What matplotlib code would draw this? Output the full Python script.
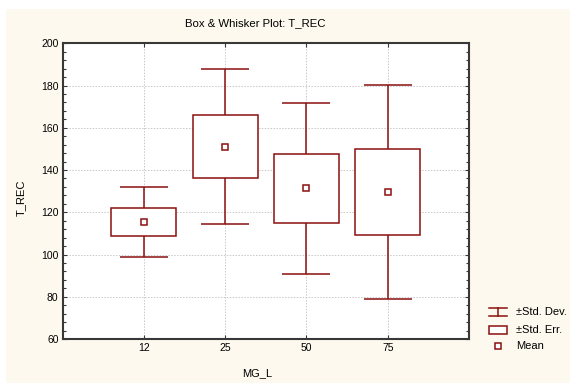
import matplotlib.pyplot as plt
from matplotlib.patches import Rectangle
from matplotlib.ticker import MultipleLocator

plt.rcParams['font.family'] = ['Liberation Sans', 'DejaVu Sans']

## DATA
groups   = ["12", "25", "50", "75"]
means    = [115.5, 151.1, 131.3, 129.7]
std_err  = [6.75, 14.8, 16.5, 20.4]
std_dev  = [16.5, 36.5, 40.5, 50.6]

## STYLE
LINE_COLOR = "#8b1010"
BG_COLOR   = "#fdf9ee"
SPINE_COLOR = "#383838"
GRID_COLOR = "#c8c8c8"
FS = 7.5

W, H = 570, 383
fig = plt.figure(figsize=(W / 100, H / 100), dpi=100)
fig.set_facecolor("white")
# cream panel (white strip on top and left like the original)
fig.add_artist(Rectangle((6 / W, 0), 1, 1 - 9 / H, transform=fig.transFigure,
                         facecolor=BG_COLOR, edgecolor="none", zorder=-10))

ax = fig.add_axes([62.7 / W, 1 - 339 / H, (469 - 62.7) / W, (339 - 43.3) / H])
ax.set_facecolor("white")

xs = list(range(1, len(groups) + 1))

# +/- std dev whiskers
ax.errorbar(xs, means, yerr=std_dev, fmt="none", ecolor=LINE_COLOR,
            elinewidth=1.1, capsize=17.5, capthick=1.1, zorder=3)

# +/- std err boxes
for x, m, se in zip(xs, means, std_err):
    ax.add_patch(Rectangle((x - 0.4, m - se), 0.8, 2 * se, facecolor="white",
                           edgecolor=LINE_COLOR, linewidth=1.1, zorder=4))

# means
ax.plot(xs, means, linestyle="none", marker="s", markersize=4,
        markerfacecolor="white", markeredgecolor=LINE_COLOR,
        markeredgewidth=1.1, zorder=5)

ax.set_xlim(0, 5)
ax.set_ylim(60, 200)
ax.set_xticks(xs)
ax.set_xticklabels(groups)
ax.yaxis.set_major_locator(MultipleLocator(20))
ax.yaxis.set_minor_locator(MultipleLocator(4))
ax.tick_params(axis="both", which="both", direction="in", labelsize=FS,
               color=SPINE_COLOR, width=0.8, right=True, top=True, pad=3)
ax.tick_params(which="major", length=3)
ax.tick_params(which="minor", length=2)

ax.grid(True, which="major", linestyle=(0, (1.5, 1.5)), color=GRID_COLOR,
        linewidth=0.7, zorder=0)
ax.set_axisbelow(True)
for s in ax.spines.values():
    s.set_color(SPINE_COLOR)
    s.set_linewidth(1.5)

fig.text(255 / W, 1 - 23.5 / H, "Box & Whisker Plot: T_REC", ha="center",
         va="center", fontsize=8.2)
fig.text(20.7 / W, 1 - 198 / H, "T_REC", rotation=90, ha="center",
         va="center", fontsize=8)
fig.text(257 / W, 1 - 373 / H, "MG_L", ha="center", va="center", fontsize=8)

# legend drawn in pixel coordinates
lg = fig.add_axes([0, 0, 1, 1], zorder=10)
lg.set_xlim(0, W)
lg.set_ylim(H, 0)
lg.axis("off")
lg.plot([489, 507], [307.7, 307.7], color=LINE_COLOR, lw=1.1)
lg.plot([489, 507], [315.7, 315.7], color=LINE_COLOR, lw=1.1)
lg.plot([498, 498], [307.7, 315.7], color=LINE_COLOR, lw=1.1)
lg.add_patch(Rectangle((489, 326), 18, 7.7, facecolor="white",
                       edgecolor=LINE_COLOR, lw=1.1))
lg.plot([498], [345.5], linestyle="none", marker="s", markersize=4,
        markerfacecolor="white", markeredgecolor=LINE_COLOR,
        markeredgewidth=1.1)
lg.text(516, 311.7, "±Std. Dev.", va="center", ha="left", fontsize=8)
lg.text(516, 329.8, "±Std. Err.", va="center", ha="left", fontsize=8)
lg.text(516, 346, "Mean", va="center", ha="left", fontsize=8)

fig.savefig("out.png", dpi=100, facecolor=fig.get_facecolor())
